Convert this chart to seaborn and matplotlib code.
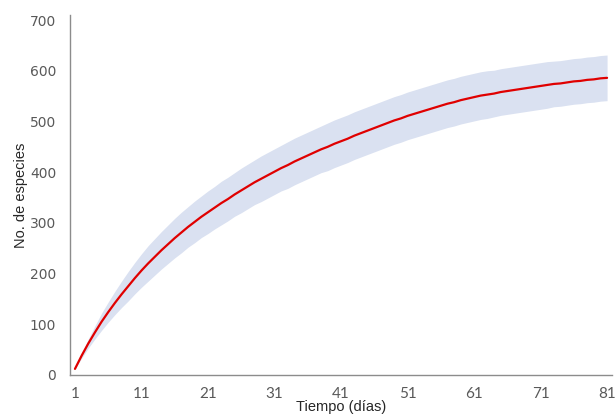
import numpy as np
import pandas as pd
import seaborn as sns
import matplotlib.pyplot as plt

# ==========================================
# DATOS
# ==========================================
dias = list(range(1, 82))
especies = [
    12, 38, 62, 84, 105, 124, 142, 159, 175, 191,
    206, 220, 233, 246, 258, 270, 281, 292, 302, 312,
    321, 330, 339, 347, 356, 364, 372, 380, 387, 394,
    401, 408, 414, 421, 427, 433, 439, 445, 450, 456,
    461, 466, 472, 477, 482, 487, 492, 497, 502, 506,
    511, 515, 519, 523, 527, 531, 535, 538, 542, 545,
    548, 551, 553, 555, 558, 560, 562, 564, 566, 568,
    570, 572, 574, 575, 577, 579, 580, 582, 583, 585,
    586,
]
desv = [
    0, 5, 9, 13, 17, 20, 23, 26, 29, 31,
    33, 35, 36, 37, 38, 39, 40, 40, 41, 41,
    42, 42, 43, 43, 43, 44, 44, 44, 45, 45,
    45, 45, 46, 46, 46, 46, 46, 46, 47, 47,
    47, 47, 47, 47, 47, 47, 47, 47, 47, 47,
    47, 47, 47, 47, 47, 47, 47, 47, 47, 47,
    47, 47, 47, 46, 46, 46, 46, 46, 46, 46,
    46, 46, 45, 45, 45, 45, 45, 45, 45, 45,
    45,
]
xticks = [1, 11, 21, 31, 41, 51, 61, 71, 81]
yticks = [0, 100, 200, 300, 400, 500, 600, 700]

df = pd.DataFrame({'dia': dias, 'especies': especies, 'desv': desv})
df['inf'] = df['especies'] - df['desv']
df['sup'] = df['especies'] + df['desv']

# ==========================================
# GRAFICO
# ==========================================
sns.set_style('white')
plt.rcParams['font.family'] = ['Liberation Sans', 'DejaVu Sans']

fig = plt.figure(figsize=(6.16, 4.16), dpi=100)
ax = fig.add_axes([0.1136, 0.0986, 0.88, 0.8654])

ax.fill_between(df['dia'], df['inf'], df['sup'], color='#DAE1F1', linewidth=0)
sns.lineplot(data=df, x='dia', y='especies', ax=ax, color='#E00000', linewidth=1.6)

ax.set_xlim(0.25, 81.75)
ax.set_ylim(0, 710)
ax.set_xticks(xticks)
ax.set_yticks(yticks)
ax.set_xticklabels([str(t) for t in xticks], family=['Lato', 'DejaVu Sans'],
                   fontsize=11, color='#595959')
ax.set_yticklabels([str(t) for t in yticks], family=['DejaVu Sans'],
                   fontsize=10, color='#595959')
ax.tick_params(axis='both', length=0)
ax.tick_params(axis='x', pad=9)
ax.tick_params(axis='y', pad=10)

ax.set_xlabel('Tiempo (días)', fontsize=10.5, labelpad=-1)
ax.set_ylabel('No. de especies', fontsize=10.5, labelpad=1)

for s in ['top', 'right']:
    ax.spines[s].set_visible(False)
for s in ['left', 'bottom']:
    ax.spines[s].set_color('#8C8C8C')
    ax.spines[s].set_linewidth(1.0)

plt.savefig('out.png', dpi=100)
